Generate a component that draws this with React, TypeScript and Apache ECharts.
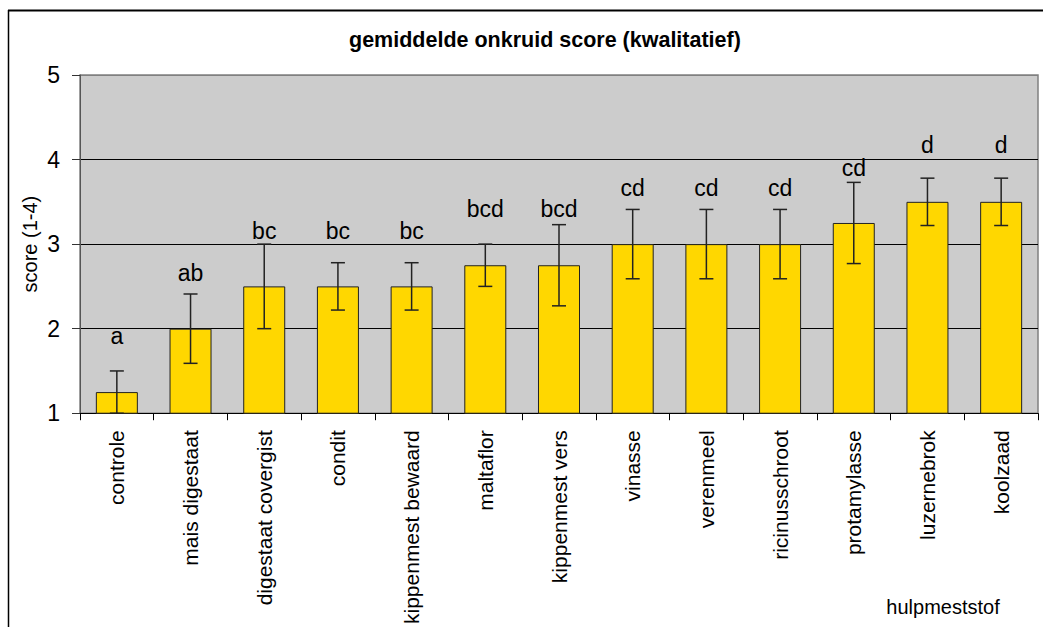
import React, { useEffect, useRef } from "react";
import * as echarts from "echarts";

const categories = [
  "controle",
  "mais digestaat",
  "digestaat covergist",
  "condit",
  "kippenmest bewaard",
  "maltaflor",
  "kippenmest vers",
  "vinasse",
  "verenmeel",
  "ricinusschroot",
  "protamylasse",
  "luzernebrok",
  "koolzaad",
];
const scores = [1.25, 2.0, 2.5, 2.5, 2.5, 2.75, 2.75, 3.0, 3.0, 3.0, 3.25, 3.5, 3.5];
const errors = [0.25, 0.41, 0.5, 0.28, 0.28, 0.25, 0.48, 0.41, 0.41, 0.41, 0.48, 0.28, 0.28];
const letters = ["a", "ab", "bc", "bc", "bc", "bcd", "bcd", "cd", "cd", "cd", "cd", "d", "d"];
const letterHeights = [1.91, 2.66, 3.15, 3.15, 3.16, 3.42, 3.42, 3.66, 3.66, 3.66, 3.9, 4.17, 4.17];
const yTicks = [1, 2, 3, 4, 5];

const FONT = "'Liberation Sans', Arial, sans-serif";

export default function App() {
  const ref = useRef<HTMLDivElement>(null);
  useEffect(() => {
    if (!ref.current) return;
    const chart = echarts.init(ref.current, null, { renderer: "svg" });
    const option: any = {
      animation: false,
      backgroundColor: "#ffffff",
      textStyle: { fontFamily: FONT },
      title: {
        text: "gemiddelde onkruid score (kwalitatief)",
        left: 344,
        top: 24,
        textStyle: { fontFamily: FONT, fontSize: 21.5, fontWeight: "bold", color: "#000" },
      },
      grid: {
        left: 80,
        top: 75,
        right: 5,
        bottom: 212,
        show: true,
        backgroundColor: "#CCCCCC",
        borderColor: "#808080",
        borderWidth: 1.5,
      },
      xAxis: {
        type: "category",
        data: categories,
        boundaryGap: true,
        axisLine: { show: true, lineStyle: { color: "#000", width: 1 } },
        axisTick: { show: true, length: 7, lineStyle: { color: "#000" } },
        axisLabel: {
          rotate: 90,
          interval: 0,
          margin: 17,
          fontSize: 21,
          color: "#000",
          fontFamily: FONT,
        },
        splitLine: { show: false },
      },
      yAxis: {
        type: "value",
        min: yTicks[0],
        max: yTicks[yTicks.length - 1],
        interval: 1,
        name: "score (1-4)",
        nameLocation: "middle",
        nameGap: 40,
        nameMoveOverlap: false,
        nameTextStyle: { fontSize: 20, color: "#000", fontFamily: FONT },
        axisLine: { show: true, lineStyle: { color: "#555", width: 1 } },
        axisTick: { show: true, length: 8, lineStyle: { color: "#333" } },
        axisLabel: { fontSize: 23, color: "#000", margin: 20, fontFamily: FONT },
        splitLine: {
          show: true,
          lineStyle: { color: ["#000", "#000", "#000", "#000", "#808080"], width: 1 },
        },
      },
      graphic: [
        {
          type: "line",
          shape: { x1: 8.5, y1: 10, x2: 8.5, y2: 627 },
          style: { stroke: "#000", lineWidth: 1.5 },
          silent: true,
        },
        {
          type: "line",
          shape: { x1: 8, y1: 10.5, x2: 1043, y2: 10.5 },
          style: { stroke: "#000", lineWidth: 2 },
          silent: true,
        },
        {
          type: "text",
          x: 943,
          y: 607,
          style: {
            text: "hulpmeststof",
            fontSize: 20,
            fontFamily: FONT,
            fill: "#000",
            textAlign: "center",
            textVerticalAlign: "middle",
          },
          silent: true,
        },
      ],
      series: [
        {
          type: "bar",
          data: scores,
          barWidth: "57%",
          itemStyle: { color: "#FFD700", borderColor: "#222", borderWidth: 1 },
          z: 2,
        },
        {
          type: "custom",
          z: 3,
          data: scores.map((s, i) => [i, s, errors[i]]),
          renderItem: (params: any, api: any) => {
            const i = api.value(0);
            const m = api.value(1);
            const e = api.value(2);
            const top = api.coord([i, m + e]);
            const bot = api.coord([i, Math.max(m - e, 1)]);
            const cap = 7;
            const style = { stroke: "#222", lineWidth: 1.5 };
            return {
              type: "group",
              children: [
                { type: "line", shape: { x1: top[0], y1: top[1], x2: bot[0], y2: bot[1] }, style },
                { type: "line", shape: { x1: top[0] - cap, y1: top[1], x2: top[0] + cap, y2: top[1] }, style },
                { type: "line", shape: { x1: bot[0] - cap, y1: bot[1], x2: bot[0] + cap, y2: bot[1] }, style },
              ],
            };
          },
        },
        {
          type: "custom",
          z: 4,
          data: letterHeights.map((h, i) => [i, h]),
          renderItem: (params: any, api: any) => {
            const p = api.coord([api.value(0), api.value(1)]);
            return {
              type: "text",
              x: p[0],
              y: p[1],
              style: {
                text: letters[params.dataIndex],
                fontSize: 23,
                fontFamily: FONT,
                fill: "#000",
                textAlign: "center",
                textVerticalAlign: "middle",
              },
            };
          },
        },
      ],
    };
    chart.setOption(option);
    return () => chart.dispose();
  }, []);
  return (
    <div
      ref={ref}
      style={{ position: "fixed", left: 0, top: 0, width: 1043, height: 627 }}
    />
  );
}
